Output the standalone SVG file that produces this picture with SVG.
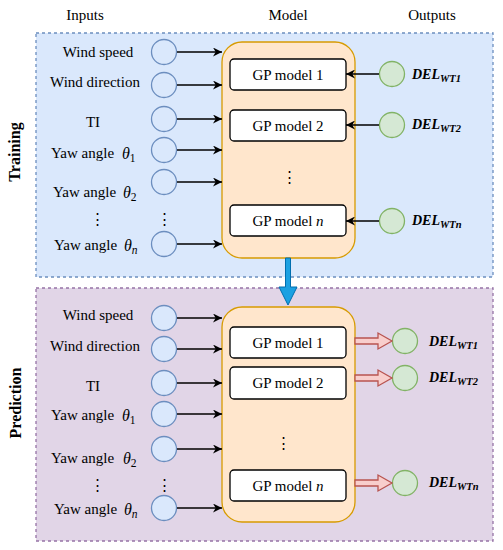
<svg xmlns="http://www.w3.org/2000/svg" width="503" height="550" viewBox="0 0 503 550">
<defs>
<marker id="ah" viewBox="0 0 10 10" refX="10" refY="5" markerWidth="9" markerHeight="9" markerUnits="userSpaceOnUse" orient="auto"><path d="M0,0 L10,5 L0,10 L3,5 Z" fill="#000"/></marker>
<style>
text{font-family:"Liberation Serif","Times New Roman",serif;fill:#000}
.lbl{font-size:15px;text-anchor:middle}
.yaw{font-size:15px}
.th{font-size:16px;font-style:italic}
.sub{font-size:11.5px;font-style:normal}
.del{font-size:14px;font-style:italic;font-weight:bold}
.dsub{font-size:10.5px}
.gp{font-size:15px;text-anchor:middle}
.side{font-size:16px;font-weight:bold;text-anchor:middle}
.inT{fill:#dae8fc;stroke:#6c8ebf;stroke-width:1.3}
.inP{fill:#dae8fc;stroke:#6c8ebf;stroke-width:1.3}
.out{fill:#d5e8d4;stroke:#82b366;stroke-width:1.3}
.model{fill:#ffe6cc;stroke:#d79b00;stroke-width:1.3}
.gpb{fill:#fff;stroke:#000;stroke-width:1.3}
.arr{stroke:#000;stroke-width:1.3;fill:none;marker-end:url(#ah)}
.blk{fill:#f8cecc;stroke:#b85450;stroke-width:1.3}
</style>
</defs>
<rect x="0" y="0" width="503" height="550" fill="#fff"/>
<text class="lbl" x="85" y="20">Inputs</text>
<text class="lbl" x="288" y="20">Model</text>
<text class="lbl" x="432" y="20">Outputs</text>

<g id="training-panel">
<rect x="36" y="33" width="457" height="244" fill="#dae8fc" stroke="#6c8ebf" stroke-width="1.3" stroke-dasharray="3,3"/>
<text class="side" transform="translate(20,152) rotate(-90)">Training</text>
</g>
<g id="prediction-panel">
<rect x="36" y="288" width="457" height="253" fill="#e1d5e7" stroke="#9673a6" stroke-width="1.3" stroke-dasharray="3,3"/>
<text class="side" transform="translate(21,403) rotate(-90)">Prediction</text>
</g>

<!-- Training inputs -->
<g id="t-in-labels">
<text class="lbl" x="98" y="57">Wind speed</text>
<text class="lbl" x="95" y="87">Wind direction</text>
<text class="lbl" x="93" y="127">TI</text>
<text class="yaw" x="51" y="158">Yaw angle</text><text class="th" x="122" y="159">θ<tspan class="sub" dy="3">1</tspan></text>
<text class="yaw" x="53" y="197">Yaw angle</text><text class="th" x="123" y="198">θ<tspan class="sub" dy="3">2</tspan></text>
<text class="lbl" x="97" y="224">⋮</text>
<text class="yaw" x="54" y="250">Yaw angle</text><text class="th" x="124" y="251">θ<tspan class="sub" dy="3" style="font-style:italic">n</tspan></text>
</g>
<g id="t-in-ws"><circle class="inT" cx="164" cy="52" r="12.5"/></g>
<g id="t-in-wd"><circle class="inT" cx="164" cy="85" r="12.5"/></g>
<g id="t-in-ti"><circle class="inT" cx="164" cy="119" r="12.5"/></g>
<g id="t-in-y1"><circle class="inT" cx="164" cy="150" r="12.5"/></g>
<g id="t-in-y2"><circle class="inT" cx="164" cy="182" r="12.5"/></g>
<text class="lbl" x="164" y="224">⋮</text>
<g id="t-in-yn"><circle class="inT" cx="164" cy="244" r="12.5"/></g>

<g id="t-model">
<rect class="model" x="222" y="42" width="133" height="216" rx="20"/>
<g id="t-gp1"><rect class="gpb" x="230" y="59" width="116" height="31" rx="4"/><text class="gp" x="288" y="80">GP model 1</text></g>
<g id="t-gp2"><rect class="gpb" x="230" y="110" width="116" height="31" rx="4"/><text class="gp" x="288" y="131">GP model 2</text></g>
<text class="gp" x="289" y="182">⋮</text>
<g id="t-gpn"><rect class="gpb" x="230" y="205" width="116" height="31" rx="4"/><text class="gp" x="288" y="226">GP model <tspan font-style="italic">n</tspan></text></g>
</g>

<g id="t-out1"><circle class="out" cx="392" cy="74" r="12.5"/><text class="del" x="412" y="79">DEL<tspan class="dsub" dy="3">WT1</tspan></text></g>
<g id="t-out2"><circle class="out" cx="392" cy="125" r="12.5"/><text class="del" x="412" y="129">DEL<tspan class="dsub" dy="3">WT2</tspan></text></g>
<g id="t-outn"><circle class="out" cx="392" cy="221" r="12.5"/><text class="del" x="412" y="225">DEL<tspan class="dsub" dy="3">WTn</tspan></text></g>

<!-- Prediction inputs -->
<g id="p-in-labels">
<text class="lbl" x="98" y="320">Wind speed</text>
<text class="lbl" x="95" y="351">Wind direction</text>
<text class="lbl" x="93" y="391">TI</text>
<text class="yaw" x="51" y="420">Yaw angle</text><text class="th" x="122" y="421">θ<tspan class="sub" dy="3">1</tspan></text>
<text class="yaw" x="51" y="463">Yaw angle</text><text class="th" x="123" y="464">θ<tspan class="sub" dy="3">2</tspan></text>
<text class="lbl" x="97" y="490">⋮</text>
<text class="yaw" x="54" y="514">Yaw angle</text><text class="th" x="124" y="515">θ<tspan class="sub" dy="3" style="font-style:italic">n</tspan></text>
</g>
<g id="p-in-ws"><circle class="inP" cx="164" cy="318" r="12.5"/></g>
<g id="p-in-wd"><circle class="inP" cx="164" cy="349" r="12.5"/></g>
<g id="p-in-ti"><circle class="inP" cx="164" cy="383" r="12.5"/></g>
<g id="p-in-y1"><circle class="inP" cx="164" cy="414" r="12.5"/></g>
<g id="p-in-y2"><circle class="inP" cx="164" cy="449" r="12.5"/></g>
<text class="lbl" x="164" y="490">⋮</text>
<g id="p-in-yn"><circle class="inP" cx="164" cy="508" r="12.5"/></g>

<g id="p-model">
<rect class="model" x="222" y="307" width="133" height="215" rx="20"/>
<g id="p-gp1"><rect class="gpb" x="230" y="327" width="116" height="31" rx="4"/><text class="gp" x="288" y="348">GP model 1</text></g>
<g id="p-gp2"><rect class="gpb" x="230" y="367" width="116" height="32" rx="4"/><text class="gp" x="288" y="388">GP model 2</text></g>
<text class="gp" x="283" y="448">⋮</text>
<g id="p-gpn"><rect class="gpb" x="230" y="470" width="116" height="31" rx="4"/><text class="gp" x="288" y="491">GP model <tspan font-style="italic">n</tspan></text></g>
</g>

<g id="p-out1"><circle class="out" cx="405" cy="341" r="12.5"/><text class="del" x="429" y="346">DEL<tspan class="dsub" dy="3">WT1</tspan></text></g>
<g id="p-out2"><circle class="out" cx="405" cy="378" r="12.5"/><text class="del" x="429" y="382">DEL<tspan class="dsub" dy="3">WT2</tspan></text></g>
<g id="p-outn"><circle class="out" cx="405" cy="483" r="12.5"/><text class="del" x="429" y="487">DEL<tspan class="dsub" dy="3">WTn</tspan></text></g>

<g id="connectors">
<line class="arr" x1="177" y1="52" x2="222" y2="52"/>
<line class="arr" x1="177" y1="85" x2="222" y2="85"/>
<line class="arr" x1="177" y1="119" x2="222" y2="119"/>
<line class="arr" x1="177" y1="150" x2="222" y2="150"/>
<line class="arr" x1="177" y1="182" x2="222" y2="182"/>
<line class="arr" x1="177" y1="244" x2="222" y2="244"/>
<line class="arr" x1="379" y1="74" x2="346" y2="74"/>
<line class="arr" x1="379" y1="125" x2="346" y2="125"/>
<line class="arr" x1="379" y1="221" x2="346" y2="221"/>
<line class="arr" x1="177" y1="318" x2="222" y2="318"/>
<line class="arr" x1="177" y1="349" x2="222" y2="349"/>
<line class="arr" x1="177" y1="383" x2="222" y2="383"/>
<line class="arr" x1="177" y1="414" x2="222" y2="414"/>
<line class="arr" x1="177" y1="449" x2="222" y2="449"/>
<line class="arr" x1="177" y1="508" x2="222" y2="508"/>
<path class="blk" d="M355,338 L378,338 L378,333 L392,341 L378,349 L378,344 L355,344 Z"/>
<path class="blk" d="M355,375 L378,375 L378,370 L392,378 L378,386 L378,381 L355,381 Z"/>
<path class="blk" d="M355,480 L378,480 L378,475 L392,483 L378,491 L378,486 L355,486 Z"/>
<path d="M285.5,258 L290.5,258 L290.5,287 L297,287 L288,305 L279,287 L285.5,287 Z" fill="#1ba1e2" stroke="#006eaf" stroke-width="1"/>
</g>
</svg>
